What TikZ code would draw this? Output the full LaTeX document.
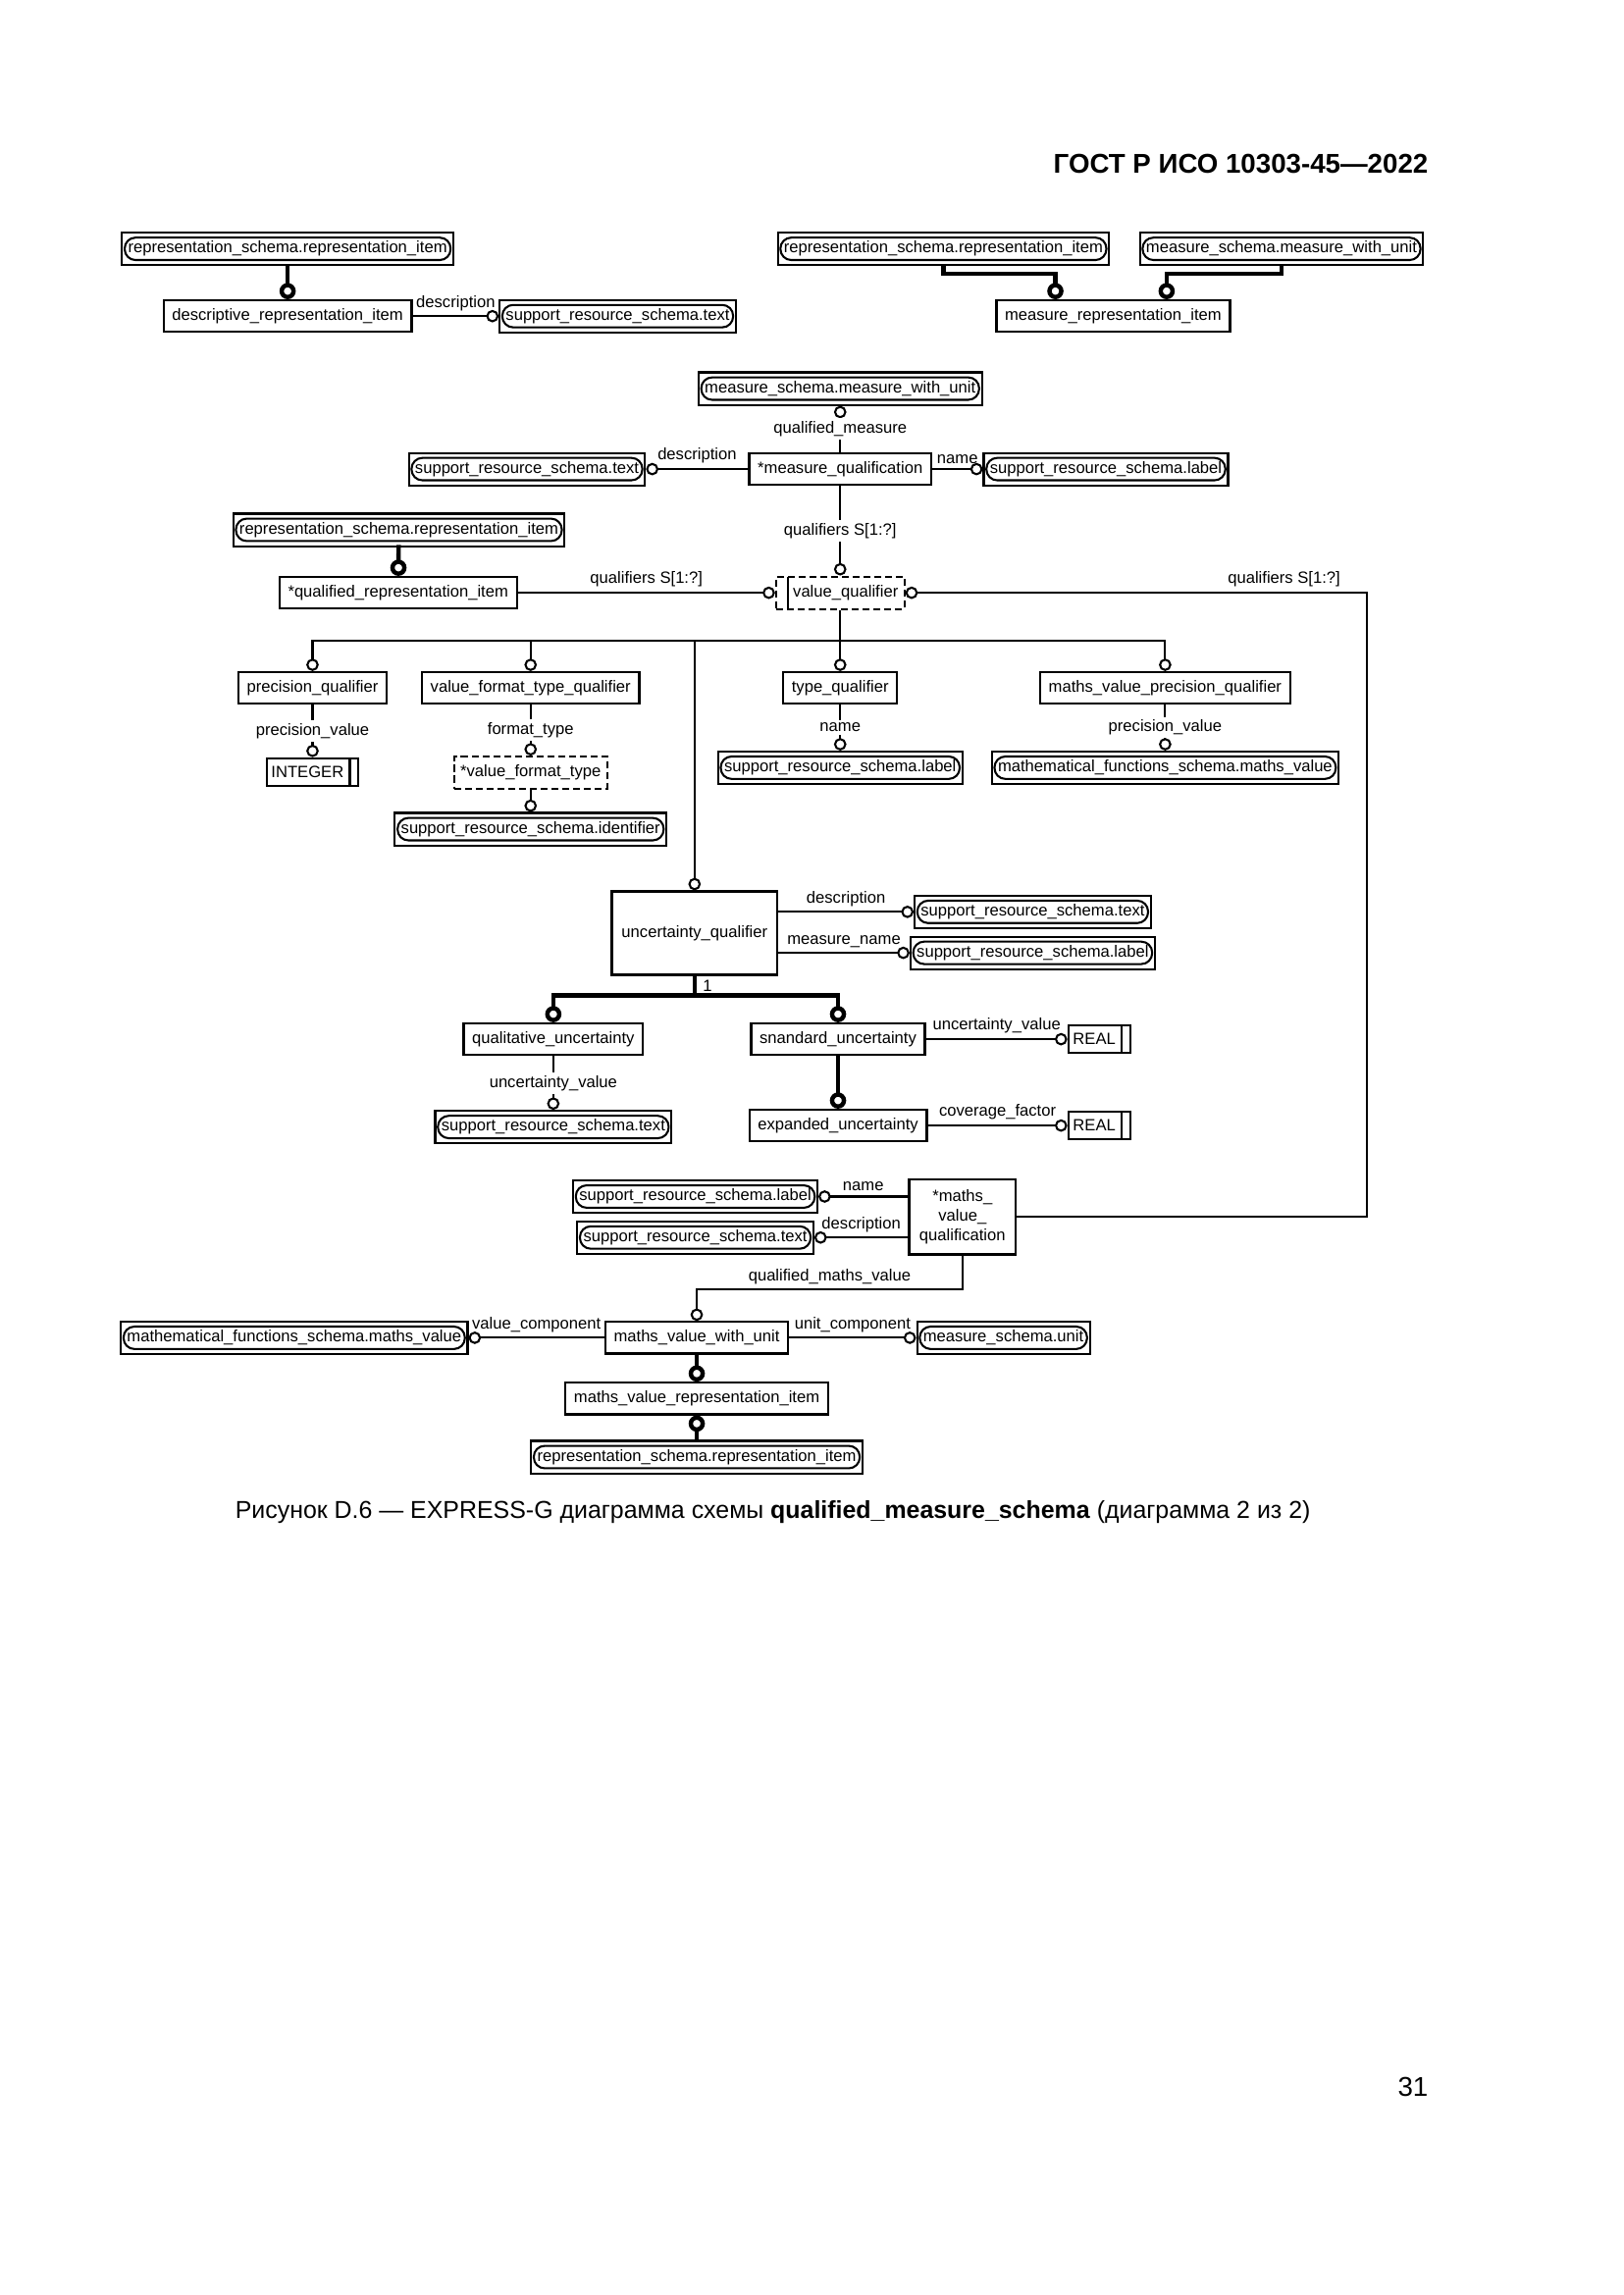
\documentclass[tikz,border=0pt]{standalone}
\usepackage{fontspec}
\setmainfont{Liberation Sans}
\usetikzlibrary{arrows.meta}
\newcommand{\sx}{0.18936mm}
\newcommand{\dfont}{\fontsize{6}{7.2}\selectfont}

\begin{document}
\begin{tikzpicture}[x=\sx, y=-\sx, every node/.style={font=\dfont}]
  \tikzstyle{ent}=[draw, line width=0.8pt, minimum height=4.1mm, inner xsep=1.1mm, inner ysep=0pt]
  \tikzstyle{ext}=[draw, line width=0.75pt, minimum height=4.2mm, inner xsep=0.8mm, inner ysep=0pt, path picture={\draw[line width=0.75pt, rounded corners=1.4mm] ([shift={(0.35mm,0.65mm)}]path picture bounding box.south west) rectangle ([shift={(-0.35mm,-0.65mm)}]path picture bounding box.north east);}]
  \tikzstyle{sel}=[draw, dash pattern=on 0.9mm off 0.5mm, line width=0.8pt, minimum height=4.2mm, inner xsep=0.8mm, inner ysep=0pt, path picture={\draw[solid, line width=0.8pt] ([xshift=1.5mm]path picture bounding box.south west) -- ([xshift=1.5mm]path picture bounding box.north west);}]
  \tikzstyle{typ}=[draw, dash pattern=on 0.9mm off 0.5mm, line width=0.8pt, minimum height=4.2mm, inner xsep=0.8mm, inner ysep=0pt]
  \tikzstyle{simple}=[draw, line width=0.8pt, minimum height=3.6mm, inner xsep=0.6mm, inner ysep=0pt, path picture={\draw[line width=0.8pt] ([xshift=-1.1mm]path picture bounding box.south east) -- ([xshift=-1.1mm]path picture bounding box.north east);}]
  \tikzstyle{lbl}=[fill=white, inner sep=0.4mm]
  \tikzstyle{lab}=[above, inner sep=0.6mm]
  \tikzstyle{rel}=[line width=0.75pt, -{Circle[open, length=1.6mm]}]
  \tikzstyle{sub}=[line width=1.6pt, line cap=rect, -{Circle[open, length=2.1mm]}]
  \useasboundingbox (0,0) rectangle (1109,1568);

  \node[font=\fontsize{10}{12}\selectfont\bfseries, anchor=east, inner sep=0pt] (hdr) at (976,112) {ГОСТ Р ИСО 10303-45—2022};

  \node[ext] (rsriA) at (196.5,170) {representation\_schema.representation\_item};
  \node[ent] (dri) at (196.5,216) {descriptive\_representation\_item};
  \node[ext] (srstA) at (422,216) {support\_resource\_schema.text};
  \node[ext] (rsriB) at (644.5,170) {representation\_schema.representation\_item};
  \node[ext] (msmwuA) at (875.5,170) {measure\_schema.measure\_with\_unit};
  \node[ent] (mri) at (760.5,216) {measure\_representation\_item};
  \coordinate (jl) at (721,187);
  \coordinate (jr) at (797,187);

  \node[ext] (msmwuB) at (574,265.5) {measure\_schema.measure\_with\_unit};
  \node[ent] (mq) at (574,320.5) {*measure\_qualification};
  \node[ext] (srstB) at (360,320.5) {support\_resource\_schema.text};
  \node[ext] (srslA) at (755.5,320.5) {support\_resource\_schema.label};
  \node[ext] (rsriC) at (272.5,362) {representation\_schema.representation\_item};
  \node[ent] (qri) at (272,405) {*qualified\_representation\_item};
  \node[sel] (vq) at (574,405) {\hspace*{1.4mm}value\_qualifier};
  \coordinate (bus) at (574,438);
  \coordinate (qr) at (934,405);

  \node[ent] (pq) at (213.5,470) {precision\_qualifier};
  \node[ent] (vftq) at (362.5,470) {value\_format\_type\_qualifier};
  \node[ent] (tq) at (574,470) {type\_qualifier};
  \node[ent] (mvpq) at (796,470) {maths\_value\_precision\_qualifier};
  \node[simple] (intg) at (213.5,527.5) {INTEGER\hspace*{1.3mm}};
  \node[typ] (vft) at (362.5,528) {*value\_format\_type};
  \node[ext] (srsi) at (362.5,566.5) {support\_resource\_schema.identifier};
  \node[ext] (srslB) at (574,524.5) {support\_resource\_schema.label};
  \node[ext] (mfsmvA) at (796,524.5) {mathematical\_functions\_schema.maths\_value};

  \node[ent, minimum width=21.4mm, minimum height=10.8mm] (uq) at (474.5,637.5) {uncertainty\_qualifier};
  \node[ext] (srstC) at (705.5,623) {support\_resource\_schema.text};
  \node[ext] (srslC) at (705.5,651) {support\_resource\_schema.label};
  \coordinate (ubus) at (474.5,680);
  \node[ent] (qu) at (378,710) {qualitative\_uncertainty};
  \node[ent] (su) at (572.5,710) {snandard\_uncertainty};
  \node[simple] (realA) at (751,710) {REAL\hspace*{1.3mm}};
  \node[ext] (srstD) at (378,770) {support\_resource\_schema.text};
  \node[ent] (eu) at (572.5,769) {expanded\_uncertainty};
  \node[simple] (realB) at (751,769) {REAL\hspace*{1.3mm}};

  \node[ent, minimum width=13.8mm, minimum height=9.7mm, align=center] (mvq) at (657.5,831.5) {*maths\_\\value\_\\qualification};
  \node[ext] (srslD) at (475,817.5) {support\_resource\_schema.label};
  \node[ext] (srstE) at (475,845.5) {support\_resource\_schema.text};
  \coordinate (qmv) at (476,881);
  \node[ent] (mvwu) at (476,914) {maths\_value\_with\_unit};
  \node[ext] (mfsmvB) at (201,914) {mathematical\_functions\_schema.maths\_value};
  \node[ext] (msu) at (685.5,914) {measure\_schema.unit};
  \node[ent] (mvri) at (476,955.5) {maths\_value\_representation\_item};
  \node[ext] (rsriD) at (476,995.5) {representation\_schema.representation\_item};

  \draw[sub] (rsriA) -- (dri);
  \draw[rel] (dri) -- (srstA) node[lab, midway]{description};
  \draw[sub] (rsriB.south) |- (jl) -- (jl |- mri.north);
  \draw[sub] (msmwuA.south) |- (jr) -- (jr |- mri.north);

  \draw[rel] (mq) -- (msmwuB) node[lbl, midway]{qualified\_measure};
  \draw[rel] (mq) -- (srstB) node[lab, midway]{description};
  \draw[rel] (mq) -- (srslA) node[lab, midway]{name};
  \draw[rel] (mq) -- (vq) node[lbl, midway]{qualifiers S[1:?]};
  \draw[sub] (rsriC) -- (qri);
  \draw[rel] (qri) -- (vq) node[lab, midway]{qualifiers S[1:?]};
  \draw[rel] (mvq) -| (qr) -- node[lab, pos=0.18]{qualifiers S[1:?]} (vq);

  \draw[rel] (vq) -- (tq);
  \draw[rel] (bus) -| (pq);
  \draw[rel] (bus) -| (vftq);
  \draw[rel] (bus) -| (mvpq);
  \draw[rel] (bus) -| (uq);
  \draw[rel] (pq) -- (intg) node[lbl, midway]{precision\_value};
  \draw[rel] (vftq) -- (vft) node[lbl, midway]{format\_type};
  \draw[rel] (vft) -- (srsi);
  \draw[rel] (tq) -- (srslB) node[lbl, midway]{name};
  \draw[rel] (mvpq) -- (mfsmvA) node[lbl, midway]{precision\_value};

  \draw[rel] (uq.east |- srstC) -- (srstC) node[lab, midway]{description};
  \draw[rel] (uq.east |- srslC) -- (srslC) node[lab, midway]{measure\_name};
  \draw[line width=1.6pt, line cap=rect] (uq) -- (ubus) node[right, midway, inner sep=0.8mm]{1};
  \draw[sub] (ubus) -| (qu);
  \draw[sub] (ubus) -| (su);
  \draw[rel] (su) -- (realA) node[lab, midway]{uncertainty\_value};
  \draw[rel] (qu) -- (srstD) node[lbl, midway]{uncertainty\_value};
  \draw[sub] (su) -- (eu);
  \draw[rel] (eu) -- (realB) node[lab, midway]{coverage\_factor};

  \draw[rel] (mvq.west |- srslD) -- (srslD) node[lab, midway]{name};
  \draw[rel] (mvq.west |- srstE) -- (srstE) node[lab, midway]{description};
  \draw[rel] (mvq) |- node[lab, pos=0.75]{qualified\_maths\_value} (qmv) -- (mvwu);
  \draw[rel] (mvwu) -- (mfsmvB) node[lab, midway]{value\_component};
  \draw[rel] (mvwu) -- (msu) node[lab, midway]{unit\_component};
  \draw[sub] (mvwu) -- (mvri);
  \draw[sub] (rsriD) -- (mvri);

  \node[font=\fontsize{9}{11}\selectfont] (cap) at (528,1033) {Рисунок D.6 — EXPRESS-G диаграмма схемы \textbf{qualified\_measure\_schema} (диаграмма 2 из 2)};
  \node[font=\fontsize{10}{12}\selectfont, anchor=east, inner sep=0pt] (pg) at (976,1426) {31};
\end{tikzpicture}
\end{document}
